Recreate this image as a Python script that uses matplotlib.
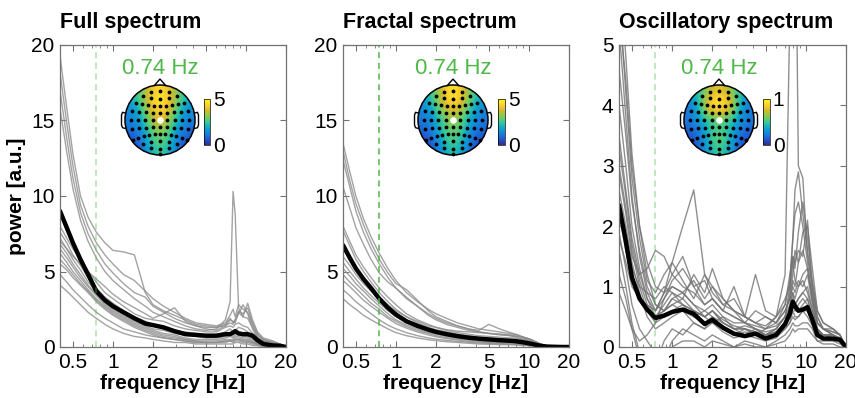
import numpy as np
import matplotlib.pyplot as plt
from matplotlib.colors import LinearSegmentedColormap
from matplotlib.patches import Circle

plt.rcParams['font.family'] = ['Liberation Sans', 'DejaVu Sans']

# ---- data -----------------------------------------------------------------
freq = [0.4, 0.45, 0.5, 0.57, 0.65, 0.75, 0.87, 1.0, 1.2, 1.45, 1.75, 2.0, 2.4,
        2.9, 3.5, 4.2, 5.0, 6.0, 7.0, 7.6, 8.0, 8.3, 8.8, 9.5, 10.3, 11.2, 12.2,
        13.5, 16.0, 18.0, 20.0]

peak_freq = 0.74

full_mean = [9.0, 7.9, 6.9, 5.8, 4.8, 3.7, 3.1, 2.7, 2.3, 1.9, 1.55, 1.45, 1.3,
             1.05, 0.85, 0.8, 0.75, 0.75, 0.85, 0.85, 0.95, 1.05, 0.9, 0.85, 0.85,
             0.75, 0.45, 0.2, 0.1, 0.08, 0.0]

full_chans = [
    [19.3, 15.8, 12.8, 10.0, 8.6, 7.6, 6.9, 6.4, 6.3, 6.1, 3.6, 2.8, 2.4, 2.1, 1.8, 1.5, 1.4, 1.3, 1.5, 1.9, 1.6, 1.8, 2.4, 2.2, 2.6, 1.6, 0.9, 0.5, 0.3, 0.2, 0.0],
    [18.2, 14.8, 12.0, 9.4, 8.0, 6.9, 6.1, 5.5, 4.8, 4.4, 3.7, 3.2, 2.7, 2.3, 1.9, 1.6, 1.5, 1.4, 1.6, 2.1, 2.5, 2.0, 2.8, 2.5, 2.3, 1.5, 0.8, 0.5, 0.3, 0.2, 0.0],
    [17.0, 13.8, 11.2, 8.9, 7.5, 6.4, 5.5, 4.9, 4.2, 3.6, 3.3, 2.7, 2.3, 1.9, 1.6, 1.4, 1.3, 1.3, 1.4, 1.8, 1.7, 1.6, 2.3, 2.0, 2.9, 1.8, 1.0, 0.6, 0.4, 0.2, 0.0],
    [15.8, 12.9, 10.5, 8.4, 7.0, 5.9, 5.0, 4.4, 3.8, 3.2, 2.7, 2.3, 2.0, 1.7, 1.4, 1.2, 1.1, 1.2, 1.8, 3.0, 10.3, 8.8, 2.6, 2.0, 1.9, 1.3, 0.7, 0.4, 0.3, 0.1, 0.0],
    [8.0, 7.2, 6.5, 5.8, 5.0, 4.3, 3.6, 3.2, 2.7, 2.2, 1.9, 1.8, 1.7, 1.4, 1.2, 1.1, 1.0, 1.0, 1.3, 1.4, 1.3, 1.5, 1.6, 1.4, 1.3, 0.9, 0.5, 0.3, 0.2, 0.1, 0.0],
    [7.6, 6.9, 6.1, 5.4, 4.6, 3.9, 3.3, 2.9, 2.4, 2.0, 1.7, 1.5, 1.3, 1.1, 1.0, 0.9, 0.8, 0.8, 1.0, 1.2, 1.0, 1.1, 1.3, 1.2, 1.0, 0.7, 0.4, 0.2, 0.1, 0.1, 0.0],
    [7.2, 6.5, 5.8, 5.1, 4.3, 3.7, 3.1, 2.7, 2.3, 1.9, 1.6, 1.4, 1.2, 1.0, 0.9, 0.8, 0.7, 0.7, 0.8, 0.9, 1.0, 0.9, 1.0, 0.9, 0.8, 0.6, 0.3, 0.2, 0.1, 0.0, 0.0],
    [6.8, 6.2, 5.5, 4.8, 4.1, 3.5, 2.9, 2.5, 2.1, 1.7, 1.4, 1.2, 1.1, 0.9, 0.8, 0.7, 0.6, 0.6, 0.7, 0.8, 0.7, 0.8, 0.8, 0.7, 0.7, 0.5, 0.3, 0.2, 0.1, 0.0, 0.0],
    [6.5, 5.9, 5.3, 4.6, 4.0, 3.4, 2.8, 2.4, 2.0, 1.6, 1.3, 1.1, 0.9, 0.8, 0.6, 0.5, 0.5, 0.5, 0.6, 0.7, 0.6, 0.7, 0.7, 0.6, 0.6, 0.4, 0.2, 0.1, 0.1, 0.0, 0.0],
    [6.2, 5.6, 5.0, 4.4, 3.8, 3.2, 2.7, 2.3, 1.9, 1.5, 1.2, 1.0, 0.8, 0.7, 0.5, 0.4, 0.4, 0.4, 0.5, 0.5, 0.5, 0.6, 0.6, 0.5, 0.5, 0.3, 0.2, 0.1, 0.1, 0.0, 0.0],
    [5.8, 5.3, 4.8, 4.2, 3.7, 3.1, 2.6, 2.2, 1.8, 1.4, 1.1, 0.9, 0.7, 0.6, 0.5, 0.4, 0.3, 0.3, 0.4, 0.4, 0.4, 0.5, 0.5, 0.4, 0.4, 0.3, 0.2, 0.1, 0.0, 0.0, 0.0],
    [5.5, 5.1, 4.6, 4.1, 3.6, 3.0, 2.5, 2.1, 1.7, 1.3, 1.0, 0.8, 0.6, 0.5, 0.4, 0.3, 0.3, 0.3, 0.3, 0.4, 0.3, 0.4, 0.4, 0.3, 0.3, 0.2, 0.1, 0.1, 0.0, 0.0, 0.0],
    [4.8, 4.3, 3.8, 3.3, 2.8, 2.3, 1.9, 1.6, 1.2, 1.0, 0.8, 0.7, 0.6, 0.5, 0.4, 0.3, 0.3, 0.3, 0.4, 0.4, 0.4, 0.5, 0.5, 0.4, 0.4, 0.3, 0.2, 0.1, 0.1, 0.0, 0.0],
    [4.1, 3.7, 3.3, 2.8, 2.3, 1.9, 1.5, 1.2, 0.9, 0.7, 0.6, 0.5, 0.4, 0.3, 0.3, 0.2, 0.2, 0.2, 0.2, 0.2, 0.2, 0.3, 0.3, 0.2, 0.2, 0.1, 0.1, 0.0, 0.0, 0.0, 0.0],
    [7.0, 6.5, 6.0, 5.5, 5.0, 4.5, 4.0, 3.5, 3.0, 2.6, 2.2, 1.9, 2.2, 2.6, 1.7, 1.4, 1.2, 1.1, 1.4, 1.6, 1.5, 1.8, 2.2, 2.8, 2.2, 1.2, 0.6, 0.4, 0.2, 0.1, 0.0],
]

fractal_mean = [6.75, 5.9, 5.2, 4.5, 3.9, 3.2, 2.6, 2.15, 1.7, 1.4, 1.15, 1.0, 0.85,
                0.72, 0.62, 0.55, 0.5, 0.45, 0.42, 0.4, 0.38, 0.36, 0.33, 0.28, 0.22,
                0.15, 0.08, 0.03, 0.01, 0.0, 0.0]

fractal_chans = [
    [13.5, 11.6, 10.0, 8.5, 7.3, 6.2, 5.2, 4.4, 3.6, 3.0, 2.5, 2.2, 1.9, 1.6, 1.4, 1.2, 1.1, 1.0, 0.9, 0.85, 0.8, 0.75, 0.7, 0.6, 0.5, 0.35, 0.2, 0.1, 0.03, 0.0, 0.0],
    [13.0, 11.0, 9.5, 8.1, 6.9, 5.8, 4.9, 4.2, 3.8, 3.1, 2.4, 2.0, 1.7, 1.4, 1.2, 1.1, 1.5, 1.2, 1.0, 0.9, 0.85, 0.8, 0.7, 0.6, 0.5, 0.35, 0.2, 0.1, 0.03, 0.0, 0.0],
    [12.4, 10.6, 9.0, 7.6, 6.5, 5.5, 4.6, 3.9, 3.2, 2.7, 2.2, 1.9, 1.6, 1.4, 1.2, 1.0, 0.9, 0.85, 0.8, 0.75, 0.7, 0.7, 0.65, 0.55, 0.45, 0.3, 0.15, 0.08, 0.02, 0.0, 0.0],
    [10.6, 9.2, 7.9, 6.8, 5.8, 4.9, 4.3, 3.9, 3.3, 2.7, 2.1, 1.8, 1.5, 1.3, 1.1, 1.0, 0.9, 0.8, 0.75, 0.7, 0.65, 0.6, 0.55, 0.5, 0.4, 0.3, 0.15, 0.08, 0.02, 0.0, 0.0],
    [8.0, 7.0, 6.1, 5.3, 4.6, 3.9, 3.3, 2.8, 2.2, 1.8, 1.5, 1.3, 1.1, 0.95, 0.85, 0.75, 0.7, 0.65, 0.6, 0.6, 0.55, 0.55, 0.5, 0.45, 0.35, 0.25, 0.12, 0.05, 0.01, 0.0, 0.0],
    [7.7, 6.7, 5.8, 5.0, 4.3, 3.6, 3.0, 2.5, 2.0, 1.6, 1.3, 1.15, 1.0, 0.85, 0.75, 0.65, 0.6, 0.55, 0.5, 0.5, 0.45, 0.45, 0.4, 0.35, 0.3, 0.2, 0.1, 0.04, 0.01, 0.0, 0.0],
    [6.0, 5.4, 4.8, 4.2, 3.7, 3.1, 2.6, 2.2, 1.8, 1.5, 1.2, 1.05, 0.9, 0.8, 0.7, 0.6, 0.55, 0.5, 0.45, 0.45, 0.4, 0.4, 0.35, 0.3, 0.25, 0.18, 0.1, 0.04, 0.01, 0.0, 0.0],
    [5.6, 5.0, 4.5, 3.9, 3.4, 2.9, 2.4, 2.0, 1.6, 1.3, 1.1, 0.95, 0.8, 0.7, 0.6, 0.5, 0.45, 0.4, 0.38, 0.36, 0.35, 0.34, 0.3, 0.26, 0.2, 0.15, 0.08, 0.03, 0.0, 0.0, 0.0],
    [5.2, 4.7, 4.2, 3.7, 3.2, 2.7, 2.2, 1.8, 1.45, 1.2, 0.95, 0.85, 0.7, 0.6, 0.5, 0.45, 0.4, 0.36, 0.33, 0.32, 0.3, 0.3, 0.27, 0.22, 0.18, 0.12, 0.06, 0.02, 0.0, 0.0, 0.0],
    [4.8, 4.3, 3.9, 3.4, 2.9, 2.5, 2.0, 1.7, 1.35, 1.1, 0.9, 0.75, 0.62, 0.52, 0.45, 0.38, 0.34, 0.3, 0.28, 0.27, 0.26, 0.25, 0.22, 0.18, 0.15, 0.1, 0.05, 0.02, 0.0, 0.0, 0.0],
    [4.4, 4.0, 3.6, 3.1, 2.7, 2.3, 1.9, 1.55, 1.25, 1.0, 0.8, 0.68, 0.56, 0.46, 0.38, 0.32, 0.28, 0.25, 0.23, 0.22, 0.21, 0.2, 0.18, 0.15, 0.12, 0.08, 0.04, 0.01, 0.0, 0.0, 0.0],
    [3.8, 3.4, 3.0, 2.6, 2.2, 1.8, 1.45, 1.2, 0.95, 0.75, 0.6, 0.52, 0.44, 0.37, 0.32, 0.27, 0.24, 0.21, 0.19, 0.18, 0.17, 0.16, 0.14, 0.12, 0.1, 0.06, 0.03, 0.01, 0.0, 0.0, 0.0],
    [3.2, 2.8, 2.5, 2.1, 1.8, 1.5, 1.2, 0.95, 0.75, 0.6, 0.48, 0.42, 0.35, 0.3, 0.25, 0.2, 0.18, 0.16, 0.15, 0.14, 0.13, 0.12, 0.1, 0.09, 0.07, 0.05, 0.02, 0.0, 0.0, 0.0, 0.0],
    [6.5, 5.8, 5.1, 4.5, 3.9, 3.3, 2.8, 2.4, 2.0, 1.7, 1.4, 1.3, 1.15, 1.05, 1.0, 0.95, 0.9, 0.85, 0.8, 0.75, 0.72, 0.7, 0.65, 0.6, 0.5, 0.35, 0.2, 0.08, 0.02, 0.0, 0.0],
]

osc_mean = [2.35, 1.75, 1.15, 0.8, 0.62, 0.48, 0.52, 0.58, 0.62, 0.55, 0.38, 0.45,
            0.32, 0.22, 0.18, 0.22, 0.14, 0.2, 0.38, 0.55, 0.75, 0.68, 0.6, 0.62,
            0.66, 0.45, 0.2, 0.14, 0.14, 0.12, 0.0]

osc_chans = [
    [6.5, 4.8, 3.2, 2.0, 1.2, 0.7, 0.6, 0.8, 0.9, 0.7, 0.5, 0.6, 0.4, 0.3, 0.35, 0.3, 0.2, 0.3, 0.5, 0.9, 1.4, 1.1, 1.0, 1.2, 1.3, 0.8, 0.3, 0.2, 0.2, 0.15, 0.0],
    [5.8, 4.2, 2.8, 1.8, 1.1, 0.9, 1.2, 1.4, 2.0, 2.6, 1.2, 1.0, 0.8, 0.6, 0.5, 0.4, 0.3, 0.4, 0.6, 0.8, 1.0, 0.9, 1.1, 1.0, 1.2, 0.7, 0.3, 0.2, 0.2, 0.1, 0.0],
    [5.3, 3.8, 2.5, 1.5, 0.9, 0.6, 0.8, 1.1, 1.3, 1.0, 0.7, 0.8, 0.6, 0.5, 0.4, 0.6, 0.5, 0.4, 0.7, 1.1, 1.8, 2.6, 2.9, 2.2, 1.6, 1.0, 0.5, 0.3, 0.3, 0.2, 0.0],
    [4.6, 3.5, 2.4, 1.6, 1.0, 0.7, 0.6, 0.7, 0.8, 0.6, 0.5, 0.4, 0.5, 0.3, 0.3, 0.2, 0.3, 0.5, 1.2, 5.5, 9.9, 8.4, 3.0, 2.8, 1.5, 1.0, 0.5, 0.3, 0.2, 0.1, 0.0],
    [4.0, 3.0, 2.0, 1.3, 0.8, 0.6, 0.9, 1.4, 1.1, 0.8, 1.2, 0.9, 0.7, 0.8, 0.5, 1.2, 0.6, 0.5, 0.8, 1.0, 1.5, 1.3, 1.9, 2.4, 1.8, 1.1, 0.6, 0.4, 0.3, 0.2, 0.0],
    [3.5, 2.6, 1.8, 1.2, 0.8, 0.5, 0.7, 0.9, 0.8, 1.2, 0.9, 1.3, 0.8, 0.6, 0.5, 0.4, 0.5, 0.4, 0.6, 0.8, 1.2, 1.6, 1.4, 1.9, 2.0, 1.3, 0.6, 0.4, 0.3, 0.2, 0.0],
    [3.0, 2.3, 1.6, 1.0, 0.6, 0.4, 0.5, 0.6, 0.7, 0.5, 0.4, 0.5, 0.3, 0.2, 0.3, 0.2, 0.15, 0.2, 0.4, 0.5, 0.7, 0.6, 0.6, 0.7, 0.8, 0.5, 0.25, 0.2, 0.2, 0.1, 0.0],
    [2.6, 2.0, 1.4, 0.9, 0.5, 0.3, 0.4, 0.5, 0.6, 0.4, 0.3, 0.4, 0.25, 0.15, 0.2, 0.15, 0.1, 0.15, 0.3, 0.4, 0.6, 0.5, 0.5, 0.6, 0.6, 0.4, 0.2, 0.15, 0.15, 0.1, 0.0],
    [2.2, 1.6, 1.1, 0.8, 0.6, 0.5, 0.6, 0.7, 0.6, 0.5, 0.6, 0.5, 0.4, 0.3, 0.3, 0.25, 0.2, 0.25, 0.4, 0.6, 0.8, 0.7, 0.8, 0.9, 0.8, 0.5, 0.3, 0.2, 0.2, 0.1, 0.0],
    [1.9, 1.3, 0.7, 0.3, 0.1, -0.1, -0.2, 0.1, 0.3, 0.2, 0.1, 0.2, 0.1, 0.0, 0.1, 0.05, 0.0, 0.1, 0.2, 0.3, 0.4, 0.35, 0.35, 0.4, 0.4, 0.3, 0.1, 0.1, 0.1, 0.05, 0.0],
    [1.6, 1.0, 0.4, -0.1, -0.3, -0.3, -0.2, 0.0, 0.1, 0.1, 0.0, 0.1, 0.05, 0.0, 0.05, 0.0, 0.0, 0.05, 0.1, 0.2, 0.3, 0.25, 0.3, 0.3, 0.3, 0.2, 0.1, 0.05, 0.05, 0.0, 0.0],
    [1.2, 0.8, 0.3, -0.2, -0.4, -0.3, 0.1, 0.3, 0.2, 0.4, 0.3, 0.5, 0.3, 0.2, 0.25, 0.2, 0.15, 0.2, 0.3, 0.4, 0.5, 0.45, 0.5, 0.6, 0.5, 0.35, 0.2, 0.15, 0.1, 0.1, 0.0],
    [0.9, 0.6, 0.3, 0.1, 0.2, 0.4, 0.8, 1.0, 0.9, 1.1, 0.8, 1.0, 0.7, 0.6, 0.4, 0.35, 0.3, 0.35, 0.5, 0.7, 0.9, 0.8, 1.0, 1.1, 0.9, 0.6, 0.4, 0.3, 0.25, 0.2, 0.0],
    [2.9, 2.2, 1.5, 1.2, 1.3, 1.6, 1.5, 1.2, 1.0, 0.9, 0.7, 0.8, 0.6, 0.5, 0.4, 0.3, 0.25, 0.3, 0.5, 0.6, 0.9, 0.7, 0.8, 0.9, 1.0, 0.6, 0.3, 0.2, 0.2, 0.1, 0.0],
    [2.4, 1.8, 1.3, 1.0, 0.9, 0.8, 1.0, 0.9, 0.7, 0.6, 0.5, 0.6, 0.4, 0.3, 0.2, 0.3, 0.2, 0.2, 0.4, 0.7, 1.1, 1.0, 1.4, 1.6, 1.3, 0.8, 0.4, 0.3, 0.2, 0.15, 0.0],
    [5.6, 4.4, 3.0, 2.0, 1.4, 1.0, 0.9, 1.0, 0.9, 0.7, 0.6, 0.7, 0.5, 0.4, 0.4, 0.3, 0.2, 0.3, 0.5, 1.0, 1.8, 2.2, 2.4, 2.0, 1.4, 0.8, 0.4, 0.3, 0.2, 0.1, 0.0],
    [1.8, 1.4, 1.0, 0.8, 0.7, 0.6, 0.9, 1.2, 1.5, 1.0, 1.1, 0.8, 0.6, 1.0, 0.5, 0.4, 0.35, 0.5, 0.7, 1.2, 1.5, 1.4, 1.6, 1.5, 2.1, 0.9, 0.4, 0.3, 0.25, 0.2, 0.0],
    [3.3, 2.5, 1.7, 1.1, 0.7, 0.5, 0.6, 0.8, 0.7, 0.6, 0.5, 0.6, 0.45, 0.35, 0.3, 0.25, 0.2, 0.25, 0.35, 0.5, 0.7, 0.6, 0.7, 0.8, 0.7, 0.45, 0.25, 0.2, 0.15, 0.1, 0.0],
]

# scalp maps at the peak frequency (7x7 grid, front row first)
topo_full = [[2.2, 2.8, 4.0, 4.6, 4.0, 2.8, 2.2],
             [1.8, 2.6, 4.2, 4.9, 4.2, 2.6, 1.8],
             [1.3, 2.1, 3.8, 4.6, 3.8, 2.1, 1.3],
             [1.2, 1.7, 3.2, 4.2, 3.2, 1.7, 1.2],
             [0.9, 1.3, 2.6, 3.4, 2.6, 1.3, 0.9],
             [0.5, 0.9, 2.3, 3.0, 2.3, 0.9, 0.5],
             [0.3, 0.7, 2.0, 2.5, 2.0, 0.7, 0.3]]
topo_fractal = [[2.0, 2.6, 4.0, 4.8, 4.0, 2.6, 2.0],
                [1.6, 2.4, 4.0, 4.8, 4.0, 2.4, 1.6],
                [1.2, 1.9, 3.3, 4.0, 3.3, 1.9, 1.2],
                [1.1, 1.5, 2.7, 3.5, 2.7, 1.5, 1.1],
                [0.8, 1.2, 2.4, 3.1, 2.4, 1.2, 0.8],
                [0.5, 0.8, 2.1, 2.8, 2.1, 0.8, 0.5],
                [0.3, 0.6, 1.8, 2.3, 1.8, 0.6, 0.3]]
topo_osc = [[0.35, 0.45, 0.7, 0.8, 0.7, 0.45, 0.35],
            [0.25, 0.45, 0.85, 0.97, 0.85, 0.45, 0.25],
            [0.2, 0.4, 0.8, 0.9, 0.8, 0.4, 0.2],
            [0.22, 0.32, 0.5, 0.55, 0.5, 0.32, 0.22],
            [0.15, 0.25, 0.45, 0.55, 0.45, 0.25, 0.15],
            [0.1, 0.15, 0.45, 0.6, 0.45, 0.15, 0.1],
            [0.05, 0.15, 0.4, 0.5, 0.4, 0.15, 0.05]]

titles = ['Full spectrum', 'Fractal spectrum', 'Oscillatory spectrum']
xtick_vals = [0.5, 1, 2, 5, 10, 20]
xtick_labels = ['0.5', '1', '2', '5', '10', '20']

# ---- styling ----------------------------------------------------------------
parula = LinearSegmentedColormap.from_list('parula', [
    (0.00, (0.21, 0.17, 0.53)), (0.11, (0.13, 0.32, 0.80)),
    (0.24, (0.09, 0.50, 0.86)), (0.37, (0.05, 0.65, 0.80)),
    (0.49, (0.2161, 0.7843, 0.5923)), (0.62, (0.5044, 0.7993, 0.3480)),
    (0.75, (0.8185, 0.7327, 0.1773)), (0.87, (0.9892, 0.8136, 0.1885)),
    (1.00, (0.9769, 0.9839, 0.0805))])

green = '#4fb848'
W, H = 855, 398


def px(x0, y0, x1, y1):
    return [x0 / W, 1 - y1 / H, (x1 - x0) / W, (y1 - y0) / H]


def electrodes():
    ring = 0.84
    pts = []
    for phi in (-18, 0, 18):
        pts.append((ring * np.sin(np.radians(phi)), ring * np.cos(np.radians(phi))))
    rows = [(5, 0.60, 36, ring), (9, 0.40, 54, ring), (9, 0.20, 72, ring),
            (9, 0.0, 90, ring), (9, -0.20, 108, ring), (11, -0.40, 126, 0.97),
            (5, -0.60, 144, ring)]
    for n, ymid, phi, r in rows:
        xe = r * np.sin(np.radians(phi))
        ye = r * np.cos(np.radians(phi))
        for x in np.linspace(-xe, xe, n):
            pts.append((x, ymid + (ye - ymid) * (x / xe) ** 2))
    for phi in (162, 180, 198):
        pts.append((ring * np.sin(np.radians(phi)), ring * np.cos(np.radians(phi))))
    pts.append((0.0, -0.96))
    return np.array(pts)


def topo(rect, grid, vmax, cbar_rect):
    ax = fig.add_axes(rect)
    im = ax.imshow(grid, extent=(-1, 1, -1, 1), cmap=parula, vmin=0, vmax=vmax,
                   interpolation='bicubic', origin='upper')
    im.set_clip_path(Circle((0, 0), 1.0, transform=ax.transData))
    ax.add_patch(Circle((0, 0), 1.0, fill=False, lw=1.1, color='k'))
    ax.plot([-0.16, 0, 0.16], [0.99, 1.17, 0.99], color='k', lw=1.0)
    for s in (-1, 1):
        ax.plot([s * 0.995, s * 1.07, s * 1.1, s * 1.1, s * 1.07, s * 0.995],
                [0.2, 0.22, 0.14, -0.14, -0.22, -0.24], color='k', lw=1.0)
    e = electrodes()
    ax.scatter(e[:, 0], e[:, 1], s=3, color='k', zorder=3)
    ax.scatter([0], [0], s=14, color='white', zorder=4)
    ax.set_xlim(-1.2, 1.2)
    ax.set_ylim(-1.2, 1.2)
    ax.set_aspect('equal')
    ax.axis('off')
    cax = fig.add_axes(cbar_rect)
    cb = fig.colorbar(im, cax=cax, ticks=[0, vmax])
    cb.ax.set_yticklabels(['0', str(vmax)], fontsize=15)
    cb.ax.tick_params(length=0, pad=2)
    cb.outline.set_linewidth(0.5)


fig = plt.figure(figsize=(8.55, 3.98), dpi=100)

panels = [
    (px(60, 45, 286, 347), full_chans, full_mean, 20, [0, 5, 10, 15, 20],
     topo_full, 5, 160, px(204, 99, 210, 145), 0.45, '0.55'),
    (px(343, 45, 569, 347), fractal_chans, fractal_mean, 20, [0, 5, 10, 15, 20],
     topo_fractal, 5, 453, px(498, 99, 505, 145), 1.0, '0.55'),
    (px(619, 45, 846, 347), osc_chans, osc_mean, 5, [0, 1, 2, 3, 4, 5],
     topo_osc, 1, 719, px(763, 99, 770, 145), 0.45, '0.45'),
]

for i, (rect, chans, mean, ymax, yt, grid, vmax, cx, crect, galpha, gcol) in enumerate(panels):
    ax = fig.add_axes(rect)
    for ch in chans:
        ax.plot(freq, ch, color=gcol, lw=1.0, alpha=0.8)
    ax.plot(freq, mean, color='k', lw=3.2, solid_capstyle='round')
    ax.axvline(peak_freq, color=green, lw=1.1, ls=(0, (4, 3)), alpha=galpha)
    ax.set_xscale('log')
    ax.set_xlim(0.4, 20)
    ax.set_ylim(0, ymax)
    ax.set_xticks(xtick_vals)
    ax.set_xticklabels(xtick_labels)
    ax.set_yticks(yt)
    ax.tick_params(which='both', direction='in', top=True, right=True,
                   color='0.45', labelsize=15, pad=4)
    ax.tick_params(which='major', length=4)
    ax.tick_params(which='minor', length=2.5)
    for sp in ax.spines.values():
        sp.set_color('0.45')
        sp.set_linewidth(0.9)
    ax.set_xlabel('frequency [Hz]', fontsize=15, fontweight='bold', labelpad=2)
    if i == 0:
        ax.set_ylabel('power [a.u.]', fontsize=15, fontweight='bold', labelpad=4)
    ax.set_title(titles[i], loc='left', fontsize=15.5, fontweight='bold', pad=12)

    topo(px(cx - 42, 78, cx + 42, 162), grid, vmax, crect)
    fig.text(cx / W, 1 - 68 / H, '%.2f Hz' % peak_freq, color=green, fontsize=16,
             ha='center', va='center')

fig.savefig('out.png', dpi=100)
